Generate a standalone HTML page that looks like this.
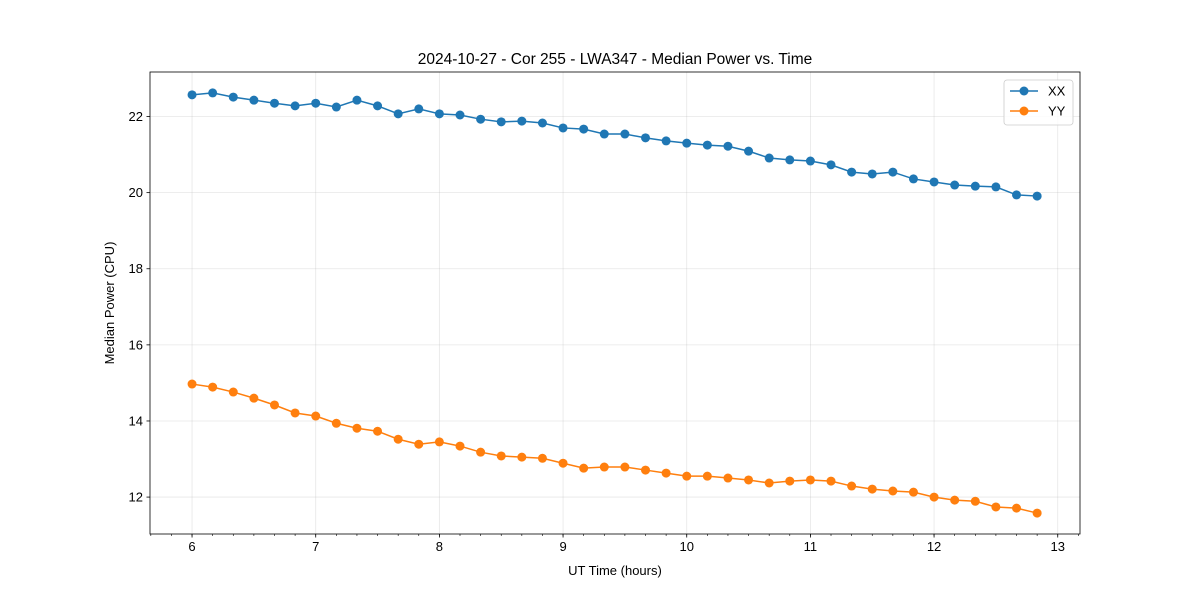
<!DOCTYPE html>
<html><head><meta charset="utf-8"><style>
body{margin:0;background:#fff;}
svg{display:block;font-family:"Liberation Sans","DejaVu Sans",sans-serif;}
</style></head><body>
<svg id="chart" width="1200" height="600"></svg>
<script>
const xxValues=[22.57,22.62,22.51,22.43,22.35,22.28,22.35,22.25,22.43,22.28,22.07,22.20,22.07,22.04,21.93,21.86,21.88,21.83,21.70,21.67,21.54,21.54,21.44,21.36,21.30,21.25,21.22,21.09,20.91,20.86,20.83,20.73,20.54,20.49,20.54,20.36,20.28,20.20,20.17,20.15,19.94,19.91];
const yyValues=[14.97,14.89,14.76,14.60,14.42,14.21,14.13,13.94,13.81,13.73,13.52,13.39,13.45,13.34,13.18,13.08,13.05,13.02,12.89,12.76,12.79,12.79,12.71,12.63,12.55,12.55,12.50,12.45,12.37,12.42,12.45,12.42,12.29,12.21,12.16,12.13,12.00,11.92,11.89,11.74,11.71,11.58];
const timeStart=6, timeStep=1/6;
const xTicks=[6,7,8,9,10,11,12,13];
const yTicks=[12,14,16,18,20,22];
const seriesNames=["XX","YY"];

const L=150,R=1080,T=72,B=534;
const xMin=5.66,xMax=13.18,yMin=11.03,yMax=23.17;
const sx=v=>L+(v-xMin)/(xMax-xMin)*(R-L);
const sy=v=>B-(v-yMin)/(yMax-yMin)*(B-T);
const svg=document.getElementById('chart');
const NS='http://www.w3.org/2000/svg';
function mk(tag,attrs,parent){const e=document.createElementNS(NS,tag);for(const k in attrs)e.setAttribute(k,attrs[k]);(parent||svg).appendChild(e);return e;}

const grid=mk('g',{});


xTicks.forEach(t=>{mk('line',{x1:sx(t),x2:sx(t),y1:T,y2:B,stroke:'#b0b0b0','stroke-opacity':0.3,'stroke-width':0.8},grid);});
yTicks.forEach(t=>{mk('line',{x1:L,x2:R,y1:sy(t),y2:sy(t),stroke:'#b0b0b0','stroke-opacity':0.3,'stroke-width':0.8},grid);});

const xa=mk('g',{});


xTicks.forEach(t=>{mk('line',{x1:sx(t),x2:sx(t),y1:B,y2:B+3.5,stroke:'#000','stroke-width':0.8},xa);
 const tx=mk('text',{x:sx(t),y:B+17,'text-anchor':'middle','font-size':13},xa);tx.textContent=t;});
for(let m=Math.ceil(xMin*6);m<=Math.floor(xMax*6);m++){const v=m/6;mk('line',{x1:sx(v),x2:sx(v),y1:B,y2:B+2,stroke:'#000','stroke-width':0.6},xa);}
const xt=mk('text',{x:(L+R)/2,y:575,'text-anchor':'middle','font-size':13},xa);


xt.textContent='UT Time (hours)';

const ya=mk('g',{});


yTicks.forEach(t=>{mk('line',{x1:L-3.5,x2:L,y1:sy(t),y2:sy(t),stroke:'#000','stroke-width':0.8},ya);
 const tx=mk('text',{x:L-7,y:sy(t)+4.5,'text-anchor':'end','font-size':13},ya);tx.textContent=t;});
const yt=mk('text',{x:114,y:(T+B)/2,'text-anchor':'middle','font-size':13,transform:`rotate(-90 114 ${(T+B)/2})`},ya);


yt.textContent='Median Power (CPU)';

const title=mk('text',{x:(L+R)/2,y:64,'text-anchor':'middle','font-size':15.5});


title.textContent='2024-10-27 - Cor 255 - LWA347 - Median Power vs. Time';

const colors=['#1f77b4','#ff7f0e'];
[xxValues,yyValues].forEach((vals,si)=>{
 const g=mk('g',{});
 
 
 const pts=vals.map((v,i)=>sx(timeStart+i*timeStep)+','+sy(v)).join(' ');
 mk('polyline',{points:pts,fill:'none',stroke:colors[si],'stroke-width':1.5},g);
 vals.forEach((v,i)=>{const c=mk('circle',{cx:sx(timeStart+i*timeStep),cy:sy(v),r:4.5,fill:colors[si]},g);
  
  });
});

mk('rect',{x:L,y:T,width:R-L,height:B-T,fill:'none',stroke:'#000','stroke-width':0.8});

const lg=mk('g',{});


mk('rect',{x:1004,y:80,width:69,height:45,rx:3,fill:'#fff','fill-opacity':0.8,stroke:'#ccc','stroke-width':0.8},lg);
seriesNames.forEach((n,i)=>{const y=91+i*20;
 const e=mk('g',{},lg);
 
 
 mk('line',{x1:1010,x2:1038,y1:y,y2:y,stroke:colors[i],'stroke-width':1.5},e);
 mk('circle',{cx:1024,cy:y,r:4.5,fill:colors[i]},e);
 const t=mk('text',{x:1048,y:y+4.5,'font-size':13},e);t.textContent=n;});
</script>
</body></html>
